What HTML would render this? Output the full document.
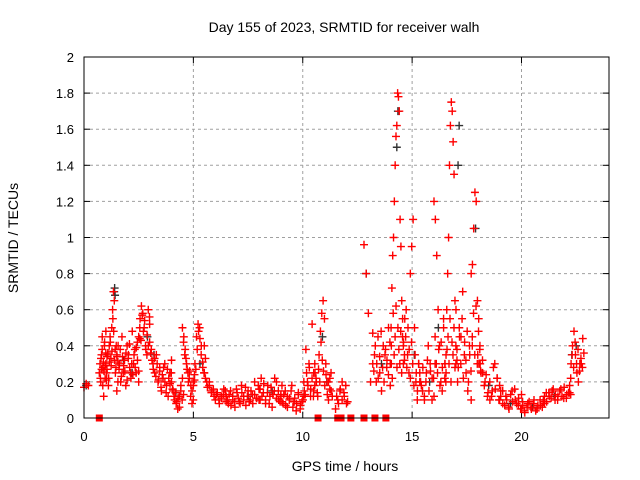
<!DOCTYPE html>
<html><head><meta charset="utf-8"><style>
html,body{margin:0;padding:0;background:#fff;}
svg{display:block;font-family:"Liberation Sans",sans-serif;}
</style></head><body>
<svg id="chart" width="640" height="480" viewBox="0 0 640 480" xmlns="http://www.w3.org/2000/svg">
<text x="344" y="32" font-size="14" text-anchor="middle">Day 155 of 2023, SRMTID for receiver walh</text>
<text transform="translate(18,238) rotate(-90)" font-size="14" text-anchor="middle">SRMTID / TECUs</text>
<text x="345" y="471" font-size="14" text-anchor="middle">GPS time / hours</text>
<g id="grid"></g>
<g id="axes"></g>
<g id="marks"></g>
<rect x="84" y="57" width="525" height="361" fill="none" stroke="#000" stroke-width="1"/>
</svg>
<script>
const xTicks=[0,5,10,15,20];
const yTicks=[0,0.2,0.4,0.6,0.8,1,1.2,1.4,1.6,1.8,2];
const yTickLabels=["0","0.2","0.4","0.6","0.8","1","1.2","1.4","1.6","1.8","2"];
// red series: segments [startHour, endHour, values...]
const redSegments=[
[0,0.2,0.17,0.19,0.18],
[0.7,1.0,0.25,0.3,0.2,0.35,0.45,0.28,0.12,0.4,0.22,0.48],
[1.0,1.5,0.3,0.25,0.35,0.18,0.4,0.45,0.33,0.5,0.6,0.7,0.65,0.38,0.28,0.15],
[1.5,2.5,0.35,0.4,0.3,0.2,0.45,0.25,0.32,0.18,0.4,0.35,0.28,0.22,0.48,0.3,0.38,0.25,0.42,0.2],
[2.5,3.0,0.45,0.55,0.62,0.58,0.5,0.4,0.35,0.6,0.52],
[3.0,4.0,0.42,0.38,0.3,0.25,0.35,0.2,0.28,0.15,0.22,0.3,0.18,0.12,0.25,0.32],
[4.0,4.5,0.2,0.15,0.1,0.08,0.05,0.12,0.18,0.22],
[4.5,5.0,0.5,0.45,0.38,0.3,0.25,0.22,0.12,0.08,0.18],
[5.0,5.5,0.2,0.3,0.45,0.52,0.5,0.35,0.28,0.4],
[5.5,6.5,0.25,0.2,0.18,0.15,0.12,0.13,0.1,0.12,0.16,0.09],
[6.5,8.0,0.12,0.08,0.15,0.1,0.06,0.14,0.09,0.18,0.12,0.07,0.15,0.1,0.13,0.2,0.11,0.16],
[8.0,9.0,0.1,0.22,0.14,0.08,0.18,0.12,0.06,0.15,0.2,0.1,0.13],
[9.0,10.0,0.12,0.08,0.15,0.06,0.11,0.18,0.09,0.04,0.13,0.07,0.1],
[10.0,10.5,0.1,0.15,0.38,0.2,0.3,0.12,0.52,0.25],
[10.5,11.3,0.15,0.25,0.2,0.12,0.35,0.48,0.58,0.65,0.55,0.3,0.2,0.1,0.22,0.15],
[11.5,12.0,0.05,0.1,0.15,0.2,0.12,0.08],
[12.8,13.2,0.96,0.8,0.58,0.2,0.47],
[13.2,14.0,0.3,0.35,0.2,0.45,0.25,0.15,0.4,0.35,0.28,0.5,0.18],
[14.0,14.6,0.3,0.5,0.72,0.9,1.0,1.2,1.4,1.56,1.62,1.8,1.78,1.7,1.1,0.95,0.65,0.45,0.3],
[14.6,15.3,0.4,0.55,0.6,0.35,0.25,0.8,0.95,1.1,0.5,0.2,0.1,0.3],
[15.3,16.0,0.3,0.2,0.15,0.1,0.25,0.4,0.3,0.22,0.12],
[16.0,16.5,1.2,1.1,0.9,0.6,0.4,0.2,0.15,0.55,0.3],
[16.5,17.0,0.3,0.2,0.6,0.8,1.0,1.4,1.62,1.75,1.7,1.53,1.35,0.65,0.4],
[17.0,17.7,0.3,0.2,0.5,0.45,0.7,0.35,0.25,0.15,0.4,0.1],
[17.7,18.1,0.8,0.85,1.05,1.25,1.2,0.65,0.55,0.4],
[18.0,19.0,0.35,0.3,0.25,0.2,0.12,0.1,0.15,0.3,0.22,0.18],
[19.0,20.0,0.1,0.08,0.12,0.05,0.15,0.1,0.07,0.13],
[20.0,21.0,0.05,0.04,0.08,0.06,0.1,0.05,0.07,0.09],
[21.0,22.2,0.1,0.14,0.12,0.15,0.1,0.12,0.16,0.11,0.13,0.14],
[22.2,22.8,0.18,0.3,0.4,0.48,0.35,0.25,0.2,0.3,0.3,0.44]
];
// second receiver pass, dense background values
const redSegments2=[
[0.75,1.05,0.22,0.33,0.27,0.38,0.18,0.31,0.26,0.42,0.29,0.36,0.21,0.34],
[1.05,1.55,0.27,0.36,0.22,0.31,0.42,0.29,0.37,0.55,0.48,0.32,0.25,0.4,0.34,0.2],
[1.55,2.55,0.31,0.27,0.38,0.23,0.34,0.29,0.26,0.36,0.21,0.33,0.41,0.25,0.3,0.24,0.35,0.28,0.39,0.32,0.26,0.44],
[2.55,3.05,0.5,0.43,0.57,0.48,0.54,0.38,0.46,0.4,0.56,0.36],
[3.05,4.05,0.36,0.32,0.27,0.33,0.23,0.3,0.21,0.26,0.17,0.24,0.28,0.2,0.14,0.27,0.22,0.19,0.25,0.16],
[4.05,4.55,0.16,0.12,0.14,0.09,0.11,0.06,0.15,0.1,0.13],
[4.55,5.05,0.42,0.35,0.33,0.27,0.2,0.26,0.18,0.15,0.1,0.21],
[5.05,5.55,0.24,0.27,0.38,0.48,0.44,0.4,0.31,0.25,0.33],
[5.55,6.55,0.22,0.17,0.2,0.14,0.16,0.1,0.14,0.08,0.11,0.13,0.15,0.1],
[6.55,8.05,0.1,0.13,0.07,0.12,0.09,0.16,0.11,0.08,0.14,0.1,0.17,0.12,0.09,0.15,0.08,0.13,0.11,0.18,0.1],
[8.05,9.05,0.16,0.12,0.19,0.1,0.14,0.08,0.17,0.13,0.22,0.11,0.15,0.09,0.18],
[9.05,10.05,0.09,0.13,0.07,0.12,0.1,0.15,0.06,0.11,0.08,0.14,0.05,0.09,0.12],
[10.05,10.55,0.2,0.13,0.25,0.18,0.28,0.16,0.22,0.12,0.3],
[10.55,11.35,0.18,0.22,0.14,0.27,0.2,0.42,0.32,0.26,0.18,0.24,0.13,0.2,0.16,0.25,0.12],
[11.55,12.05,0.12,0.08,0.16,0.1,0.14,0.18,0.09],
[13.25,14.05,0.26,0.4,0.3,0.22,0.34,0.48,0.28,0.2,0.38,0.32,0.24,0.42,0.3],
[14.05,14.65,0.4,0.22,0.58,0.35,0.45,0.62,0.28,0.5,0.38,0.3,0.48,0.25,0.55,0.42,0.35],
[14.65,15.35,0.32,0.45,0.28,0.5,0.38,0.22,0.42,0.3,0.18,0.35,0.25,0.15,0.3,0.2],
[15.35,16.05,0.25,0.18,0.28,0.12,0.2,0.32,0.15,0.26,0.1,0.22,0.3],
[16.05,16.55,0.45,0.3,0.25,0.38,0.18,0.42,0.28,0.5,0.22,0.35],
[16.55,17.05,0.25,0.38,0.45,0.3,0.55,0.2,0.42,0.35,0.5,0.28,0.6,0.32],
[17.05,17.75,0.38,0.28,0.45,0.3,0.55,0.22,0.42,0.32,0.48,0.2,0.35,0.26,0.4],
[17.75,18.15,0.45,0.58,0.35,0.62,0.3,0.48,0.38,0.25],
[18.05,19.05,0.3,0.26,0.32,0.18,0.24,0.14,0.2,0.12,0.28,0.16,0.22,0.1,0.15],
[19.05,20.05,0.12,0.15,0.07,0.1,0.06,0.13,0.09,0.16,0.08,0.11,0.05,0.09],
[20.05,21.05,0.07,0.03,0.06,0.09,0.05,0.08,0.04,0.07,0.1,0.06,0.08],
[21.05,22.25,0.12,0.09,0.14,0.11,0.16,0.13,0.1,0.15,0.12,0.17,0.11,0.14,0.13],
[22.25,22.85,0.22,0.35,0.28,0.42,0.3,0.38,0.26,0.33,0.28,0.36]
];
const blackTimes=[0.1,1.4,1.42,1.38,3.2,5.3,10.9,12.9,14.3,14.35,15.1,16.2,17.1,17.15,17.9,22.3,22.5,2.2,7.5,19.5,21.5,1.8,2.9,4.2,6.8,8.6,9.6,11.1,13.6,15.8,18.5,20.5];
const blackValues=[0.18,0.72,0.68,0.7,0.35,0.3,0.45,0.8,1.5,1.7,0.35,0.5,1.4,1.62,1.05,0.35,0.4,0.25,0.12,0.08,0.12,0.32,0.45,0.14,0.12,0.15,0.09,0.2,0.3,0.2,0.18,0.06];
const zeroTimes=[0.7,10.7,11.6,11.75,12.2,12.8,13.3,13.8];

const X0=84,X1=609,Y0=418,Y1=57;
const xs=t=>X0+(t/24)*(X1-X0);
const ys=v=>Y0-(v/2)*(Y0-Y1);
const NS="http://www.w3.org/2000/svg";
const grid=document.getElementById('grid'),axes=document.getElementById('axes'),marks=document.getElementById('marks');
function mk(tag,attrs,parent){const e=document.createElementNS(NS,tag);for(const k in attrs)e.setAttribute(k,attrs[k]);parent.appendChild(e);return e;}
yTicks.forEach((v,i)=>{
  const y=ys(v);
  if(v>0&&v<2){const g=mk('line',{x1:X0,x2:X1,y1:y,y2:y,stroke:'#a0a0a0','stroke-dasharray':'3,3'},grid);
  
  }
  const tl=mk('line',{x1:X0,x2:X0+6,y1:y,y2:y,stroke:'#000'},axes);
  
  
  const tr=mk('line',{x1:X1-6,x2:X1,y1:y,y2:y,stroke:'#000'},axes);
  
  
  const t=mk('text',{x:X0-10,y:y+5,'font-size':13,'text-anchor':'end'},axes);
  t.textContent=yTickLabels[i];
  
  
});
xTicks.forEach(v=>{
  const x=xs(v);
  if(v>0){const g=mk('line',{x1:x,x2:x,y1:Y1,y2:Y0,stroke:'#a0a0a0','stroke-dasharray':'3,3'},grid);
  
  }
  const tb=mk('line',{x1:x,x2:x,y1:Y0-6,y2:Y0,stroke:'#000'},axes);
  
  
  const tt=mk('line',{x1:x,x2:x,y1:Y1,y2:Y1+6,stroke:'#000'},axes);
  
  
  const t=mk('text',{x:x,y:Y0+23,'font-size':13,'text-anchor':'middle'},axes);
  t.textContent=String(v);
  
  
});
function cross(t,v,color,name){
  const x=xs(t),y=ys(v);
  const p=mk('path',{d:`M${x-4},${y}H${x+4}M${x},${y-4}V${y+4}`,stroke:color,'stroke-width':1.4,fill:'none'},marks);
  
  
}
blackTimes.forEach((t,i)=>cross(t,blackValues[i],'#333','black-point'));
function drawSegs(segs){
  segs.forEach(seg=>{
    const a=seg[0],b=seg[1],vals=seg.slice(2),n=vals.length;
    vals.forEach((v,i)=>cross(a+(b-a)*(n>1?i/(n-1):0),v,'#f00','red-point'));
  });
}
drawSegs(redSegments);
drawSegs(redSegments2);
zeroTimes.forEach(t=>{
  const r=mk('rect',{x:xs(t)-3.5,y:Y0-3.5,width:7,height:7,fill:'#f00'},marks);
  
  
});
</script>
</body></html>
